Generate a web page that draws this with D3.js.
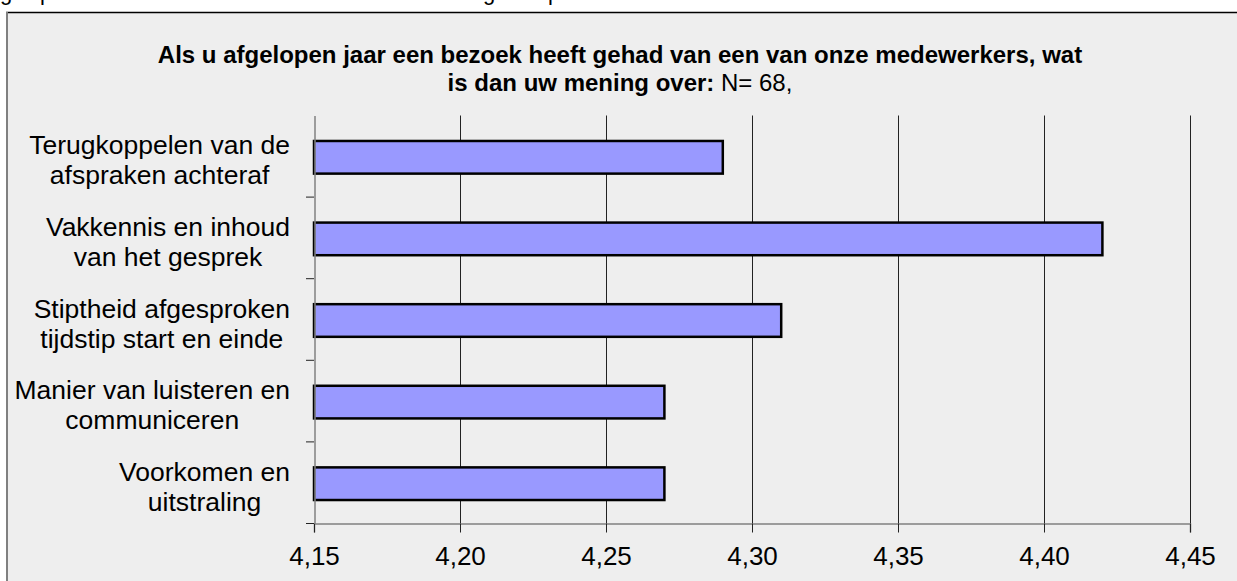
<!DOCTYPE html>
<html>
<head>
<meta charset="utf-8">
<script src="https://cdn.jsdelivr.net/npm/d3@7"></script>
<style>
  html, body { margin: 0; padding: 0; background: #ffffff; }
  svg { display: block; font-family: "Liberation Sans", Arial, sans-serif; }
</style>
</head>
<body>
<svg id="chart" width="1237" height="581"></svg>
<script>
const categories = [
  "Terugkoppelen van de afspraken achteraf",
  "Vakkennis en inhoud van het gesprek",
  "Stiptheid afgesproken tijdstip start en einde",
  "Manier van luisteren en communiceren",
  "Voorkomen en uitstraling"
];
const values = [4.29, 4.42, 4.31, 4.27, 4.27];
const xTicks = [4.15, 4.20, 4.25, 4.30, 4.35, 4.40, 4.45];
const titleBold1 = "Als u afgelopen jaar een bezoek heeft gehad van een van onze medewerkers, wat";
const titleBold2 = "is dan uw mening over:";
const titleNormal2 = " N= 68,";

const svg = d3.select("#chart");

// cut-off text fragments above the frame (as in the reference)
[["g", 0], ["p", 40], ["g", 483], ["p", 548]].forEach(([t, x]) => {
  svg.append("text").attr("x", x).attr("y", 0).attr("font-size", 22).attr("fill", "#000").text(t);
});

// frame
svg.append("rect").attr("x", 7).attr("y", 12).attr("width", 1240).attr("height", 580).attr("fill", "#eeeeee");
svg.append("line").attr("x1", 6).attr("x2", 1237).attr("y1", 12.5).attr("y2", 12.5).attr("stroke", "#000").attr("stroke-width", 1.5);
svg.append("line").attr("x1", 7).attr("x2", 7).attr("y1", 12).attr("y2", 581).attr("stroke", "#808080").attr("stroke-width", 2);

const x = d3.scaleLinear().domain([4.15, 4.45]).range([314, 1190]);
const y = d3.scaleBand().domain(categories).range([115.5, 523.5]).paddingInner(0.6).paddingOuter(0.3);
const yb = d3.scaleBand().domain(categories).range([115.5, 523.5]);

// gridlines
svg.append("g").selectAll("line").data(xTicks.slice(1)).join("line")
  .attr("x1", d => Math.round(x(d)) + 0.5).attr("x2", d => Math.round(x(d)) + 0.5)
  .attr("y1", 115.5).attr("y2", 523.5)
  .attr("stroke", "#222").attr("stroke-width", 1);

// bars
svg.append("g").selectAll("rect").data(values).join("rect")
  .attr("x", x(4.15))
  .attr("y", (d, i) => y(categories[i]) + 1)
  .attr("width", d => x(d) - x(4.15))
  .attr("height", y.bandwidth())
  .attr("fill", "#9999ff")
  .attr("stroke", "#000").attr("stroke-width", 2.5);

// x axis
const xAxis = d3.axisBottom(x).tickValues(xTicks)
  .tickFormat(d => d3.format(".2f")(d).replace(".", ","))
  .tickSize(9).tickPadding(14);
const gx = svg.append("g").attr("transform", "translate(0,523.5)").call(xAxis);
gx.select(".domain").attr("stroke", "#808080").attr("stroke-width", 1.5);
gx.selectAll(".tick line").attr("stroke", "#222");
gx.selectAll(".tick text").attr("font-size", 26).attr("fill", "#000")
  .attr("font-family", "Liberation Sans, Arial, sans-serif");

// y axis
const yAxis = d3.axisLeft(yb).tickSize(0).tickFormat("");
const gy = svg.append("g").attr("transform", "translate(314.5,0)").call(yAxis);
gy.select(".domain").attr("stroke", "#808080").attr("stroke-width", 1.5);
// boundary ticks between categories
const bounds = categories.map((c, i) => yb(c) + yb.bandwidth());
svg.append("g").selectAll("line").data(bounds).join("line")
  .attr("x1", 306).attr("x2", 314)
  .attr("y1", d => d).attr("y2", d => d)
  .attr("stroke", "#222").attr("stroke-width", 1);

// category labels (wrapped, centered block, right-aligned at x=290)
const labelG = svg.append("g").attr("font-size", 26.5).attr("fill", "#000");
categories.forEach((c, i) => {
  const words = c.split(" ");
  const lines = [];
  let cur = "";
  const probe = labelG.append("text").attr("visibility", "hidden");
  words.forEach(w => {
    const test = cur ? cur + " " + w : w;
    probe.text(test);
    if (probe.node().getComputedTextLength() > 284 && cur) { lines.push(cur); cur = w; }
    else cur = test;
  });
  lines.push(cur);
  let maxW = 0;
  lines.forEach(l => { probe.text(l); maxW = Math.max(maxW, probe.node().getComputedTextLength()); });
  probe.remove();
  const cx = 290 - maxW / 2;
  const cy = yb(c) + yb.bandwidth() / 2;
  const first = cy - 2 - (lines.length - 2) * 15;
  lines.forEach((l, j) => {
    labelG.append("text").attr("x", cx).attr("y", first + j * 30)
      .attr("text-anchor", "middle").text(l);
  });
});

// title
const title = svg.append("g").attr("font-size", 24).attr("fill", "#000");
title.append("text").attr("x", 620).attr("y", 63).attr("text-anchor", "middle")
  .attr("font-weight", "bold").text(titleBold1);
const t2 = title.append("text").attr("x", 620).attr("y", 91).attr("text-anchor", "middle");
t2.append("tspan").attr("font-weight", "bold").text(titleBold2);
t2.append("tspan").attr("font-weight", "normal").text(titleNormal2);
</script>
</body>
</html>
